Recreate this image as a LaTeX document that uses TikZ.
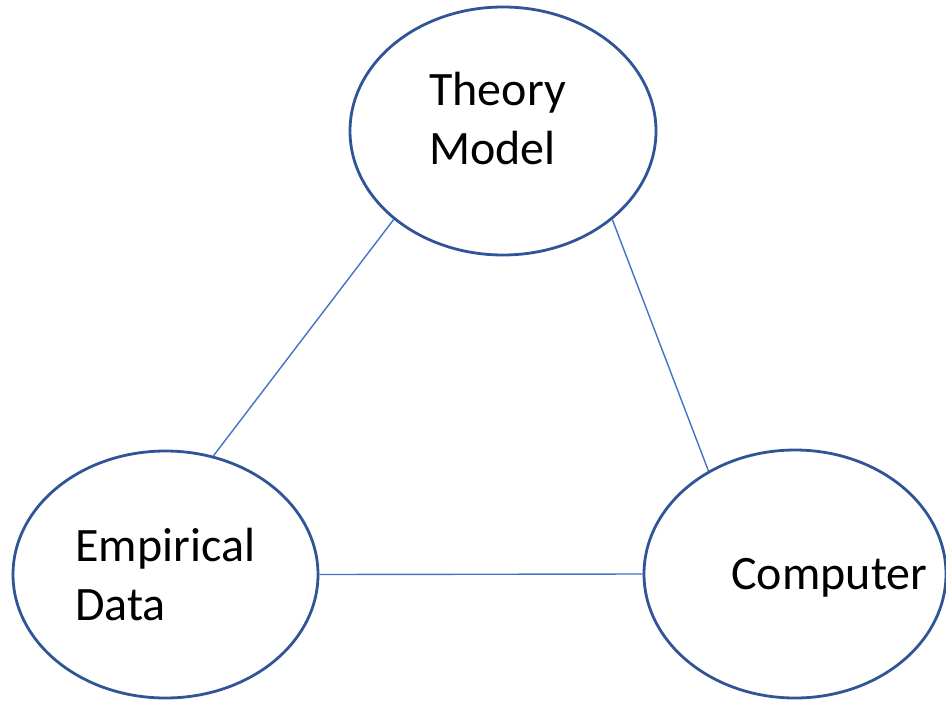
\documentclass[tikz,border=0pt]{standalone}
\usepackage{fontspec}
\setmainfont{Carlito}
\usepackage{xcolor}
\definecolor{cEdge}{HTML}{2F5597}
\definecolor{cLink}{HTML}{4472C4}
\usepackage{tikz}
\usetikzlibrary{shapes.geometric}
\tikzset{
  node-ellipse/.style={draw=cEdge,line width=1.4pt,ellipse,inner sep=0pt},
  node-text/.style={inner sep=0pt,align=left,
    font=\fontsize{24}{29.5}\selectfont},
  link/.style={draw=cLink,line width=0.7pt},
}

\begin{document}
\begin{tikzpicture}[x=0.5pt,y=-0.5pt]
  \useasboundingbox (0,0) rectangle (946,701);
  % the three corners
  \node[node-ellipse,minimum width=153pt,minimum height=124pt] (theory) at (503,131) {};
  \node[node-ellipse,minimum width=152.5pt,minimum height=123.5pt] (empirical) at (165.5,574.5) {};
  \node[node-ellipse,minimum width=151pt,minimum height=124pt] (computer) at (795,574) {};
  % captions, set off-centre inside each ellipse
  \node[node-text,anchor=west] (theory-txt) at (429,118) {Theory\\Model};
  \node[node-text,anchor=west] (empirical-txt) at (75,575) {Empirical\\Data};
  \node[node-text,anchor=base west] (computer-txt) at (731,589) {Computer};
  % links
  \draw[link] (theory.219) -- (empirical.68);
  \draw[link] (theory.321) -- (computer.130);
  \draw[link] (empirical.east) -- (computer.west);
\end{tikzpicture}
\end{document}
